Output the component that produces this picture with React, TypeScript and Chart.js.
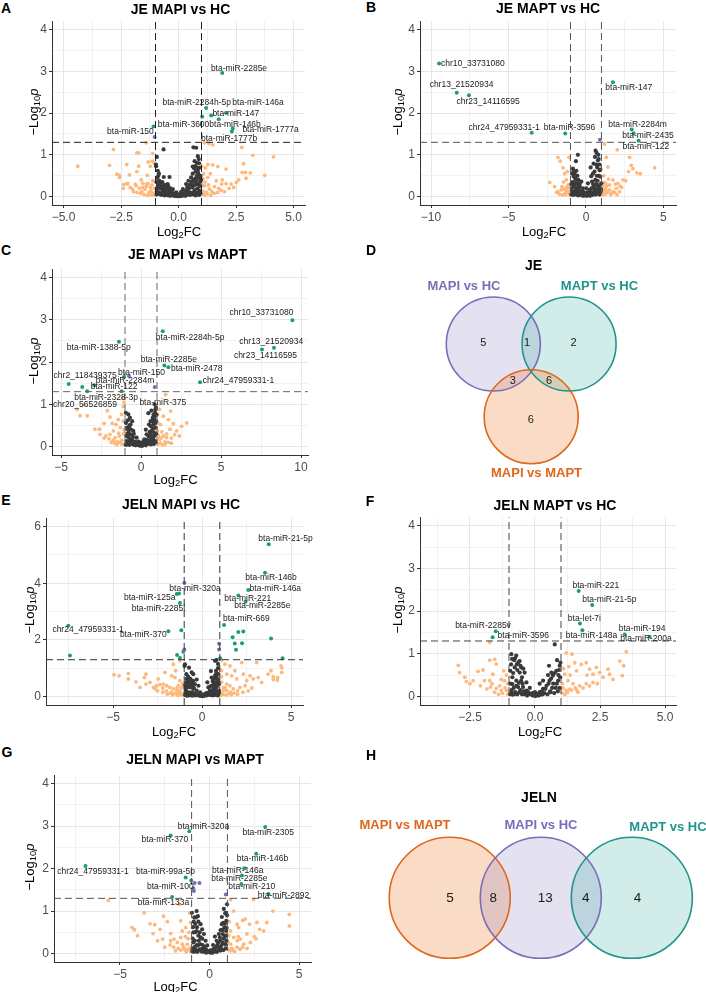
import React, { useEffect, useRef } from 'react';
import { Chart, registerables } from 'chart.js';
Chart.register(...registerables);

const FONT = '"Liberation Sans", Arial, Helvetica, sans-serif';
const ORANGE_PT = '#FDB97D';
const GREY_PT = '#3A3A3A';
const GREEN_PT = '#1B9E77';
const PURPLE_PT = '#7570B3';

type P = [number, number];
type L = [string, number, number];

// thresholds
const fcCutoffs = [-1, 1];
const pCutoff = 1.3;

// ---------- Panel A: JE MAPI vs HC ----------
const aOrange: P[] = [[-4.38,0.73],[-3.0,0.75],[-2.83,1.13],[-2.68,0.54],[-2.57,0.51],[-2.25,0.77],[-2.38,0.29],[-2.25,0.31],[-2.13,0.52],[-1.88,0.30],[-1.81,0.6],[-1.73,1.05],[-1.73,0.73],[-1.62,0.40],[-1.55,0.32],[-1.40,1.29],[-1.32,0.83],[-1.36,0.51],[-1.23,0.73],[-1.12,1.03],[-1.07,0.81],[-1.38,0.30],[-1.7,0.2],[-1.22,0.22],[-1.12,0.38],[-1.04,0.2],[-2.57,0.46],[-2.2,0.31],[-1.84,0.26],[-1.55,0.22],[-1.33,0.31],[-1.19,0.14],[-1.14,0.85],[-1.81,1.05],[-1.6,0.12],[-1.45,0.18],[-1.28,0.1],[-1.1,0.08],[-2.0,0.18],
[-1.05,0.05],[-1.15,0.04],[-1.25,0.06],[-1.35,0.03],[-1.5,0.05],[-1.65,0.08],[-1.8,0.1],[-1.95,0.12],[-2.1,0.22],[-2.4,0.2],[-1.4,0.25],[-1.15,0.28],
[1.01,0.73],[1.16,0.69],[1.12,1.29],[1.27,0.46],[1.38,0.55],[1.49,0.76],[1.64,0.38],[1.88,0.30],[2.07,0.31],[2.29,0.30],[2.51,0.34],[2.62,0.40],[2.77,0.58],[2.83,0.79],[2.75,1.18],[3.12,0.57],[3.23,0.99],[3.75,0.51],[4.13,0.95],[1.06,0.43],[1.13,0.26],[1.06,0.13],[1.35,0.18],[1.57,0.24],[1.32,1.27],[1.49,1.24],[1.28,0.77],[1.71,0.72],[2.07,0.66],[2.91,0.58],[2.94,0.44],[1.2,0.1],[1.45,0.12],[1.75,0.2],[1.02,0.3],[1.1,0.55],
[1.05,0.05],[1.15,0.04],[1.25,0.07],[1.4,0.03],[1.55,0.08],[1.7,0.1],[1.85,0.15],[2.0,0.12],[2.2,0.2],[1.3,0.28],[1.15,0.35],[1.9,0.4],[2.4,0.22]];
const aGrey: P[] = [[-0.98,0.77],[-0.97,0.73],[-0.65,1.13],[-0.83,0.38],[-0.64,0.47],[-0.75,0.22],[-0.47,0.30],[-0.39,0.47],[-0.25,0.18],[-0.10,0.10],[0.04,0.05],[0.19,0.18],[0.33,0.30],[0.43,0.38],[0.55,0.46],[0.62,0.55],[0.65,1.18],[0.77,1.17],[0.73,0.73],[0.84,0.97],[0.80,0.81],[0.91,0.69],[0.96,0.50],[0.84,0.62],[0.74,0.44],[0.41,0.18],[0.12,0.10],[-0.17,0.08],[-0.57,0.14],[-0.94,0.13],[-0.90,0.26],[0.60,0.22],[0.77,0.30],[0.91,0.14],
[-0.85,0.55],[-0.7,0.35],[-0.6,0.28],[-0.5,0.2],[-0.4,0.15],[-0.3,0.1],[-0.2,0.06],[0,0.02],[0.1,0.04],[0.2,0.08],[0.3,0.12],[0.45,0.2],[0.55,0.3],[0.65,0.4],[0.75,0.6],[0.85,0.3],[0.9,0.45],[0.95,0.25],[0.7,0.85],[0.88,0.9],[-0.92,0.45],[-0.8,0.2],[-0.7,0.12],[-0.55,0.08],[-0.35,0.05],[0.35,0.05],[0.5,0.1],[0.7,0.15],[0.8,0.5],[0.68,0.68],[-0.96,0.35],[-0.9,0.62],
[-0.95,0.05],[-0.9,0.08],[-0.85,0.1],[-0.8,0.06],[-0.75,0.04],[-0.7,0.08],[-0.65,0.05],[-0.6,0.03],[-0.55,0.12],[-0.5,0.05],[-0.45,0.03],[-0.4,0.08],[-0.35,0.02],[-0.3,0.14],[-0.25,0.04],[-0.2,0.02],[-0.15,0.03],[-0.1,0.01],[-0.05,0.02],[0.05,0.01],[0.1,0.1],[0.15,0.02],[0.2,0.03],[0.25,0.06],[0.3,0.02],[0.35,0.15],[0.4,0.05],[0.45,0.08],[0.5,0.04],[0.55,0.06],[0.6,0.09],[0.65,0.05],[0.7,0.07],[0.75,0.03],[0.8,0.09],[0.85,0.06],[0.9,0.04],[0.95,0.08],[-0.92,0.2],[-0.88,0.3],[-0.82,0.26],[-0.78,0.32],[-0.72,0.25],[-0.68,0.18],[-0.62,0.22],[-0.52,0.16],[-0.45,0.25],[-0.36,0.2],[0.38,0.22],[0.48,0.28],[0.58,0.36],[0.68,0.27],[0.72,0.35],[0.78,0.4],[0.82,0.2],[0.86,0.55],[0.92,0.35],[0.98,0.4],[0.62,0.72],[0.8,0.7],[0.9,0.8],[-0.94,0.95],[-0.88,0.5]];
const aGreen: P[] = [[1.9,2.96],[1.2,2.12],[2.07,2.01],[1.42,1.94],[1.03,1.91],[1.75,1.85],[2.36,1.63],[2.32,1.56],[-1.09,1.68]];
const aPurple: P[] = [[-1.04,1.43]];
const aLabels: L[] = [['bta-miR-2285e',2.63,3.06],['bta-miR-2284h-5p',0.79,2.26],['bta-miR-146a',3.46,2.26],['bta-miR-147',2.49,1.98],['bta-miR-3600',0.22,1.73],['bta-miR-146b',2.46,1.73],['bta-miR-1777a',4.0,1.61],['bta-miR-150',-2.09,1.55],['bta-miR-1777b',2.2,1.40]];

// ---------- Panel B: JE MAPT vs HC ----------
const bOrange: P[] = [[-2.34,0.34],[-1.81,0.94],[-1.66,0.85],[-1.48,0.69],[-1.38,0.55],[-1.27,0.40],[-1.55,0.24],[-1.10,0.94],[-1.16,0.28],[-2.02,0.24],[-1.81,0.12],[-1.59,0.16],[-1.27,0.12],[-1.05,0.24],[1.2,1.26],[1.31,0.94],[1.42,0.71],[1.53,0.28],[1.74,0.40],[1.96,0.2],[2.06,0.32],[2.17,0.12],[2.39,0.40],[2.82,0.94],[2.92,0.75],[3.03,0.67],[3.29,0.57],[3.5,0.55],[4.43,0.69],[2.75,0.6],[1.31,0.24],[1.74,0.12],[1.2,0.34],[2.02,1.12],[1.42,0.12],[2.56,0.38],[-1.3,0.05],[-1.1,0.1],[1.1,0.08],[1.6,0.05],[1.15,0.5],[-1.2,0.6],[-1.45,0.35],[2.3,0.22],[1.25,0.18],
[-1.05,0.05],[-1.15,0.15],[-1.35,0.08],[-1.5,0.04],[-1.7,0.06],[-1.9,0.1],[-1.25,0.22],[-1.4,0.18],[1.05,0.04],[1.15,0.15],[1.25,0.06],[1.35,0.1],[1.5,0.16],[1.65,0.08],[1.85,0.1],[2.0,0.05],[1.1,0.25],[1.3,0.3],[1.45,0.42],[1.9,0.3],[2.2,0.25]];
const bGrey: P[] = [[-0.52,1.0],[-0.84,0.67],[-0.73,0.55],[-0.67,0.40],[-0.58,0.32],[-0.41,0.24],[-0.19,0.12],[0.02,0.05],[0.24,0.16],[0.39,0.36],[0.45,0.55],[0.49,0.79],[0.62,1.10],[0.77,0.87],[0.88,0.63],[0.92,0.48],[0.99,0.32],[0.77,0.24],[0.56,0.12],[0.28,0.09],[-0.09,0.09],[-0.49,0.40],[-0.77,0.24],[-0.88,0.12],[0.67,0.77],[0.88,0.77],[0.02,0.2],[0.34,0.49],[0.13,0.32],[-0.3,0.36],[-0.79,0.48],[-0.6,0.2],[0.6,0.4],[0.95,0.12],[-0.95,0.3],[-0.9,0.55],[-0.7,0.1],[-0.45,0.08],[-0.3,0.05],[0.15,0.04],[0.4,0.1],[0.7,0.15],[0.85,0.2],[0.5,0.25],[-0.2,0.2],[-0.65,0.85],[0.3,0.7],[0.8,1.0],[0.55,0.6],[0.7,0.5],
[-0.95,0.05],[-0.88,0.08],[-0.82,0.04],[-0.78,0.12],[-0.72,0.06],[-0.66,0.15],[-0.62,0.05],[-0.55,0.1],[-0.5,0.03],[-0.46,0.17],[-0.38,0.06],[-0.34,0.12],[-0.26,0.03],[-0.22,0.08],[-0.14,0.02],[-0.05,0.04],[0.06,0.02],[0.1,0.1],[0.2,0.05],[0.26,0.02],[0.32,0.08],[0.36,0.2],[0.42,0.04],[0.46,0.3],[0.52,0.08],[0.58,0.18],[0.63,0.05],[0.66,0.3],[0.72,0.08],[0.75,0.38],[0.8,0.12],[0.83,0.5],[0.87,0.05],[0.9,0.28],[0.93,0.65],[0.97,0.18],[-0.92,0.2],[-0.86,0.35],[-0.8,0.6],[-0.75,0.3],[-0.7,0.45],[-0.62,0.62],[-0.55,0.5],[-0.5,0.25],[-0.4,0.3],[0.58,0.95],[0.72,0.7],[0.68,1.05],[0.82,0.9]];
const bGreen: P[] = [[-9.48,3.19],[-8.34,2.49],[-7.55,2.43],[-3.5,1.53],[-1.34,1.51],[1.74,2.74],[2.95,1.61],[3.08,1.52],[3.40,1.34]];
const bPurple: P[] = [[0.9,1.36]];
const bLabels: L[] = [['chr10_33731080',-7.3,3.18],['chr13_21520934',-8.03,2.67],['chr23_14116595',-6.32,2.28],['chr24_47959331-1',-5.28,1.66],['bta-miR-3596',-1.06,1.66],['bta-miR-147',2.76,2.6],['bta-miR-2284m',3.33,1.72],['bta-miR-2435',4.0,1.47],['bta-miR-122',3.86,1.2]];

// ---------- Panel C: JE MAPI vs MAPT ----------
const cOrange: P[] = [[-3.81,0.73],[-3.36,0.73],[-3.56,0.99],[-2.1,0.85],[-1.94,0.70],[-2.88,0.41],[-2.6,0.41],[-2.19,0.25],[-1.94,0.29],[-1.73,0.37],[-1.56,0.52],[-1.42,0.64],[-1.21,0.76],[-1.1,0.95],[-1.06,1.05],[-1.62,0.21],[-1.35,0.25],[-2.56,0.29],[1.02,0.76],[1.15,0.88],[1.03,0.37],[1.23,0.52],[1.40,0.72],[1.54,1.23],[1.71,0.64],[1.81,0.41],[1.85,0.84],[2.02,0.54],[2.23,0.37],[2.54,0.48],[2.86,0.56],[1.15,0.17],[1.40,0.25],[1.6,0.21],[1.5,0.11],[-1.5,0.11],[-1.73,0.15],[-1.2,0.15],[-1.1,0.3],[-1.3,0.45],[1.1,0.25],[1.3,0.35],[-2.3,0.55],[-1.8,0.55],[1.9,0.2],[2.1,0.28],[-1.15,1.15],[-4.0,0.88],
[-1.05,0.05],[-1.2,0.06],[-1.35,0.1],[-1.5,0.05],[-1.65,0.08],[-1.85,0.1],[-2.0,0.18],[-2.3,0.2],[-1.4,0.32],[-1.05,0.4],[-1.1,0.6],[1.05,0.05],[1.2,0.08],[1.35,0.04],[1.5,0.06],[1.7,0.1],[1.9,0.08],[1.25,0.2],[1.6,0.3],[2.4,0.25],[1.05,0.55]];
const cGrey: P[] = [[-0.79,0.76],[-0.69,0.68],[-0.94,0.56],[-0.83,0.41],[-0.69,0.29],[-0.58,0.17],[-0.37,0.09],[-0.17,0.04],[0.04,0.02],[0.25,0.06],[0.46,0.13],[0.56,0.25],[0.67,0.37],[0.77,0.52],[0.81,0.64],[0.88,0.80],[0.9,0.88],[0.73,0.68],[0.35,0.29],[0.5,0.52],[0.6,0.60],[-0.48,0.37],[-0.65,0.52],[-0.27,0.21],[-0.06,0.09],[0.21,0.17],[-0.77,0.21],[-0.9,0.13],[0.88,0.13],[0.77,0.17],[0.81,0.33],[0.46,0.79],[-0.85,0.3],[-0.75,0.45],[-0.5,0.12],[-0.3,0.06],[0.1,0.05],[0.35,0.1],[0.6,0.15],[0.7,0.25],[0.92,0.45],[0.85,1.0],[0.65,0.85],[-0.55,0.6],[-0.95,0.8],[0.3,0.4],[0.15,0.12],[-0.15,0.12],[0.95,0.6],[0.55,0.35],
[-0.95,0.04],[-0.9,0.08],[-0.85,0.05],[-0.8,0.1],[-0.72,0.04],[-0.68,0.14],[-0.62,0.06],[-0.55,0.08],[-0.5,0.22],[-0.45,0.04],[-0.4,0.12],[-0.33,0.03],[-0.28,0.1],[-0.22,0.05],[-0.12,0.06],[-0.08,0.02],[0.02,0.08],[0.08,0.02],[0.18,0.06],[0.22,0.12],[0.3,0.03],[0.38,0.16],[0.42,0.06],[0.48,0.24],[0.52,0.08],[0.58,0.32],[0.62,0.05],[0.66,0.2],[0.72,0.1],[0.76,0.42],[0.8,0.06],[0.84,0.25],[0.88,0.55],[0.92,0.1],[0.95,0.3],[0.97,0.75],[-0.92,0.25],[-0.88,0.45],[-0.82,0.62],[-0.78,0.33],[-0.72,0.5],[-0.62,0.4],[-0.58,0.28],[-0.45,0.3],[0.62,0.48],[0.7,0.6],[0.78,0.75],[0.84,0.68],[0.94,0.92]];
const cGreen: P[] = [[9.46,2.99],[1.36,2.73],[-1.38,2.48],[8.31,2.34],[7.56,2.30],[1.46,1.92],[1.71,1.88],[-1.06,1.65],[3.69,1.52],[-4.52,1.48],[-3.67,1.41],[-2.92,1.45],[-3.36,1.31],[-1.21,1.31]];
const cPurple: P[] = [[-0.75,1.67],[0.86,1.41]];
const cLabels: L[] = [['chr10_33731080',7.53,3.16],['bta-miR-2284h-5p',3.07,2.59],['bta-miR-1388-5p',-2.64,2.34],['chr13_21520934',8.14,2.49],['chr23_14116595',7.78,2.16],['bta-miR-2285e',1.74,2.06],['bta-miR-2478',3.48,1.85],['bta-miR-150',0.03,1.76],['chr2_118439375',-3.49,1.68],['bta-miR-2284m',-1.0,1.56],['chr24_47959331-1',6.09,1.56],['bta-miR-122',-1.68,1.41],['bta-miR-2328-3p',-2.18,1.15],['chr20_56526859',-3.5,0.99],['bta-miR-375',1.36,1.03]];

// ---------- Panel E: JELN MAPI vs HC ----------
const eOrange: P[] = [[-4.94,0.77],[-4.66,0.73],[-4.14,0.81],[-4.14,0.62],[-3.71,0.52],[-3.15,0.79],[-3.24,0.67],[-3.15,0.44],[-2.73,0.32],[-2.55,0.38],[-2.36,0.42],[-2.17,0.44],[-1.98,0.38],[-1.80,0.32],[-1.61,0.27],[-1.42,0.21],[-1.33,0.38],[-1.24,0.56],[-1.52,0.67],[-1.70,0.73],[-2.08,0.85],[-2.46,0.62],[-2.92,0.5],[-3.48,0.32],[-2.64,0.27],[-1.24,0.21],[-1.14,0.32],[-1.7,0.15],[-1.61,1.14],[-1.48,0.91],[-1.24,1.26],[1.1,1.28],[1.29,1.14],[1.57,1.08],[1.39,0.79],[1.67,0.73],[1.85,0.91],[1.95,0.62],[2.23,1.2],[2.32,0.79],[2.51,0.56],[2.70,0.73],[2.88,0.62],[3.07,1.2],[3.16,0.67],[3.35,0.5],[3.72,0.79],[3.88,0.91],[4.0,0.70],[4.23,0.58],[4.48,1.02],[4.48,0.85],[1.1,0.91],[1.1,0.5],[1.2,0.32],[1.39,0.21],[1.76,0.27],[2.13,0.32],[2.42,0.38],[1.57,0.38],[1.39,0.44],[1.2,0.21],[4.0,0.6],[4.25,0.67],[4.44,1.08],[-1.1,0.1],[-1.3,0.12],[-2.0,0.2],[1.05,0.12],[1.6,0.15],[2.0,0.2],[2.8,0.3],[-2.2,0.3],
[-1.05,0.05],[-1.2,0.08],[-1.35,0.04],[-1.5,0.1],[-1.65,0.06],[-1.8,0.12],[-1.95,0.08],[-2.2,0.15],[-2.5,0.2],[-1.4,0.3],[-1.1,0.45],[1.05,0.04],[1.2,0.08],[1.35,0.05],[1.5,0.1],[1.65,0.06],[1.8,0.12],[2.0,0.08],[2.3,0.15],[2.6,0.2],[1.3,0.3],[1.1,0.7]];
const eGrey: P[] = [[-0.96,1.14],[-0.73,1.02],[-0.58,0.85],[-0.49,0.79],[-0.86,0.62],[-0.8,0.5],[-0.67,0.32],[-0.49,0.27],[-0.3,0.21],[-0.11,0.15],[0.07,0.07],[0.26,0.12],[0.45,0.21],[0.54,0.38],[0.64,0.5],[0.73,0.73],[0.79,0.91],[0.73,1.26],[0.82,1.29],[-0.86,0.32],[-0.9,0.21],[-0.58,0.15],[-0.4,0.44],[-0.2,0.38],[0.36,0.32],[0.64,0.27],[0.82,0.32],[0.92,0.5],[0.82,0.67],[0.92,0.79],[-0.88,0.79],[-0.98,1.08],[-0.86,0.12],[0.82,0.15],[0.54,0.67],[-0.7,0.6],[-0.6,0.5],[-0.4,0.1],[-0.2,0.05],[0.0,0.03],[0.15,0.06],[0.35,0.1],[0.6,0.12],[0.9,1.0],[0.95,0.2],[-0.95,0.4],[-0.75,0.15],[0.3,0.5],[-0.3,0.6],[0.7,0.4],[0.5,0.9],
[-0.95,0.05],[-0.9,0.1],[-0.85,0.03],[-0.8,0.08],[-0.75,0.04],[-0.7,0.12],[-0.65,0.05],[-0.6,0.08],[-0.55,0.03],[-0.5,0.12],[-0.45,0.05],[-0.35,0.04],[-0.25,0.08],[-0.15,0.03],[-0.05,0.02],[0.05,0.01],[0.12,0.03],[0.2,0.1],[0.25,0.04],[0.32,0.06],[0.4,0.15],[0.45,0.05],[0.5,0.08],[0.55,0.2],[0.6,0.04],[0.65,0.12],[0.7,0.06],[0.75,0.2],[0.8,0.05],[0.85,0.1],[0.9,0.04],[0.95,0.12],[-0.92,0.3],[-0.88,0.5],[-0.82,0.4],[-0.78,0.7],[-0.7,0.45],[-0.65,0.62],[-0.55,0.4],[-0.5,0.55],[-0.45,0.3],[0.45,0.35],[0.6,0.55],[0.68,0.62],[0.75,0.5],[0.8,0.82],[0.85,0.4],[0.88,0.6],[0.95,0.42],[0.9,1.15]];
const eGreen: P[] = [[3.75,5.38],[3.54,4.37],[2.6,3.76],[2.04,3.57],[2.45,3.35],[1.24,2.53],[2.04,2.28],[2.32,2.30],[1.72,2.09],[1.84,1.87],[2.25,1.88],[1.91,1.65],[3.88,2.05],[4.53,1.35],[1.02,1.35],[-1.29,3.64],[-1.42,3.62],[-1.24,3.30],[-1.16,2.34],[-1.89,2.31],[-7.51,2.50],[-7.42,1.45],[-1.40,1.47],[-1.24,1.36],[-1.05,1.58]];
const ePurple: P[] = [[-0.99,4.01],[-0.99,1.66],[0.96,1.86],[0.96,1.66]];
const eLabels: L[] = [['bta-miR-21-5p',4.69,5.58],['bta-miR-146b',3.88,4.21],['bta-miR-146a',4.12,3.8],['bta-miR-320a',-0.39,3.8],['bta-miR-125a',-2.94,3.51],['bta-miR-221',2.57,3.45],['bta-miR-2285e',3.39,3.2],['bta-miR-2285l',-2.45,3.1],['bta-miR-669',2.49,2.74],['chr24_47959331-1',-6.4,2.35],['bta-miR-370',-3.3,2.17]];

// ---------- Panel F: JELN MAPT vs HC ----------
const fOrange: P[] = [[-2.95,0.73],[-2.9,0.56],[-2.64,0.35],[-2.38,0.37],[-2.19,0.59],[-2.0,0.62],[-1.74,0.85],[-1.55,0.87],[-1.49,0.76],[-1.62,0.52],[-1.74,0.37],[-1.71,0.22],[-1.36,0.25],[-1.17,0.37],[-1.1,0.14],[-1.49,0.19],[-1.30,0.14],[-1.74,1.27],[-1.94,0.37],[-2.5,0.3],[-1.2,0.6],[-1.05,0.3],[-2.7,0.45],
[-1.05,0.05],[-1.15,0.2],[-1.25,0.08],[-1.4,0.05],[-1.55,0.1],[-1.65,0.3],[-1.85,0.18],[-2.1,0.25],[-1.3,0.4],[-1.1,0.5],
[1.2,1.02],[1.42,0.99],[1.53,0.79],[1.78,0.75],[1.97,0.79],[2.1,0.64],[2.23,0.52],[2.36,0.68],[2.49,0.56],[2.62,0.45],[2.81,0.64],[2.87,0.52],[3.26,0.83],[3.41,0.72],[3.36,0.49],[3.51,1.05],[1.27,0.37],[1.46,0.3],[1.72,0.25],[1.97,0.3],[2.23,0.33],[1.2,0.14],[1.08,0.2],[1.34,0.17],[1.14,0.52],[1.05,0.08],[1.6,0.15],[2.0,0.5],[1.6,0.6],[3.0,0.4],[1.3,0.7],
[1.05,0.3],[1.15,0.05],[1.25,0.1],[1.4,0.15],[1.55,0.2],[1.65,0.1],[1.85,0.2],[2.1,0.25],[2.4,0.3],[1.35,0.5],[1.1,0.65]];
const fGrey: P[] = [[-0.91,0.99],[-0.72,0.96],[-0.59,0.83],[-0.78,0.68],[-0.87,0.45],[-0.87,0.29],[-0.72,0.37],[-0.59,0.56],[-0.53,0.37],[-0.46,0.22],[-0.33,0.14],[-0.2,0.06],[-0.08,0.02],[0.05,0.04],[0.18,0.10],[0.31,0.18],[0.44,0.25],[0.56,0.37],[0.69,0.49],[0.82,0.60],[0.95,0.72],[0.98,0.79],[0.54,0.72],[0.63,0.56],[0.76,1.22],[-0.4,0.56],[-0.53,0.68],[-0.65,0.22],[-0.91,0.1],[-0.78,0.06],[0.95,0.2],[0.89,0.37],[0.31,0.37],[0.18,0.3],[-0.33,0.33],[-0.95,0.6],[-0.8,0.85],[-0.6,0.1],[-0.4,0.05],[0.3,0.05],[0.6,0.1],[0.8,0.2],[0.9,0.5],[0.7,0.3],[-0.2,0.2],[0.0,0.1],[-0.7,0.75],[0.5,0.5],[0.85,0.85],[-0.95,0.3],
[-0.95,0.05],[-0.9,0.15],[-0.85,0.04],[-0.82,0.2],[-0.76,0.1],[-0.72,0.25],[-0.68,0.05],[-0.62,0.32],[-0.56,0.15],[-0.5,0.05],[-0.48,0.3],[-0.44,0.12],[-0.36,0.08],[-0.3,0.02],[-0.26,0.1],[-0.14,0.04],[-0.1,0.08],[0.02,0.01],[0.1,0.06],[0.14,0.02],[0.22,0.04],[0.26,0.12],[0.36,0.08],[0.4,0.18],[0.48,0.05],[0.52,0.3],[0.58,0.12],[0.62,0.42],[0.66,0.2],[0.74,0.08],[0.76,0.55],[0.84,0.3],[0.88,0.12],[0.92,0.62],[0.97,0.45],[-0.92,0.75],[-0.88,0.88],[-0.84,0.55],[-0.76,0.9],[-0.68,0.62],[-0.64,0.8],[-0.56,0.72],[-0.5,0.45],[-0.45,0.65]];
const fGreen: P[] = [[1.68,2.47],[2.2,2.14],[1.73,1.71],[1.82,1.55],[3.45,1.45],[4.41,1.40],[-1.51,1.53],[-1.63,1.39]];
const fPurple: P[] = [];
const fLabels: L[] = [['bta-miR-221',2.34,2.6],['bta-miR-21-5p',2.86,2.27],['bta-let-7i',1.9,1.83],['bta-miR-148a',2.17,1.43],['bta-miR-194',4.12,1.58],['bta-miR-200a',4.27,1.36],['bta-miR-2285v',-2.0,1.66],['bta-miR-3596',-0.45,1.43]];

// ---------- Panel G: JELN MAPI vs MAPT ----------
const gOrange: P[] = [[-5.65,1.25],[-4.33,0.61],[-4.2,0.56],[-3.65,0.96],[-3.32,0.7],[-3.06,0.68],[-2.76,0.57],[-2.57,0.88],[-2.35,0.75],[-2.17,0.47],[-3.15,0.47],[-2.63,0.34],[-2.17,0.30],[-1.98,0.34],[-1.80,0.26],[-1.61,0.38],[-1.52,0.53],[-1.24,0.22],[-1.52,0.22],[-1.33,0.61],[-1.61,0.77],[-1.06,0.73],[-1.15,0.5],[-1.7,1.16],[-1.04,0.15],[-4.02,0.42],[-1.4,0.1],[-1.2,0.35],[-2.0,0.15],
[-1.05,0.05],[-1.2,0.1],[-1.3,0.04],[-1.45,0.15],[-1.6,0.08],[-1.75,0.12],[-1.9,0.06],[-2.2,0.2],[-2.5,0.15],[-2.9,0.3],[-1.35,0.4],[-1.1,0.95],
[1.17,1.27],[1.35,1.0],[1.54,0.69],[1.63,0.61],[1.85,0.78],[2.0,0.81],[2.24,0.69],[2.46,1.27],[2.65,0.73],[2.80,0.57],[3.20,0.73],[3.54,1.0],[4.46,0.92],[4.46,0.65],[3.02,0.53],[2.09,0.46],[1.35,0.38],[1.17,0.22],[1.54,0.15],[1.91,0.22],[2.28,0.26],[1.72,0.34],[1.07,0.42],[1.17,0.53],[1.05,0.1],[1.3,0.08],[1.6,0.4],[2.5,0.4],
[1.05,0.25],[1.15,0.06],[1.25,0.12],[1.4,0.05],[1.55,0.3],[1.7,0.1],[1.85,0.15],[2.1,0.12],[2.6,0.35],[1.1,0.75]];
const gGrey: P[] = [[-0.98,0.96],[-0.72,1.0],[-0.65,0.88],[-0.5,0.69],[-0.41,0.57],[-0.31,0.46],[-0.22,0.30],[-0.13,0.19],[0.02,0.07],[0.24,0.11],[0.43,0.19],[0.61,0.30],[0.74,0.46],[0.83,0.61],[0.94,0.77],[0.93,0.96],[0.98,1.16],[0.69,0.69],[0.52,0.46],[-0.5,0.38],[-0.72,0.53],[-0.91,0.26],[-0.83,0.15],[-0.65,0.19],[-0.41,0.11],[0.33,0.05],[0.61,0.07],[0.89,0.22],[0.93,0.53],[-0.41,0.35],[0.69,0.86],[-0.9,0.5],[-0.8,0.7],[-0.6,0.3],[-0.3,0.15],[-0.1,0.05],[0.1,0.03],[0.2,0.2],[0.4,0.3],[0.55,0.15],[0.75,0.25],[0.85,0.4],[0.95,0.3],[-0.95,0.1],[-0.2,0.1],[0.3,0.4],[0.8,1.05],[-0.85,0.85],
[-0.95,0.05],[-0.9,0.12],[-0.86,0.04],[-0.82,0.3],[-0.76,0.08],[-0.72,0.2],[-0.68,0.04],[-0.62,0.42],[-0.56,0.1],[-0.52,0.22],[-0.46,0.05],[-0.38,0.2],[-0.34,0.04],[-0.26,0.08],[-0.18,0.02],[-0.06,0.04],[0.06,0.02],[0.14,0.08],[0.18,0.02],[0.28,0.06],[0.36,0.14],[0.42,0.04],[0.48,0.25],[0.52,0.08],[0.58,0.38],[0.64,0.12],[0.68,0.2],[0.72,0.55],[0.78,0.08],[0.8,0.35],[0.86,0.7],[0.9,0.12],[0.96,0.6],[0.98,0.9],[-0.94,0.35],[-0.92,0.62],[-0.88,0.75],[-0.8,0.5],[-0.75,0.85],[-0.7,0.62],[-0.62,0.75],[-0.55,0.5],[0.62,0.55],[0.76,0.72],[0.88,0.95],[0.92,0.42]];
const gGreen: P[] = [[3.11,2.98],[-1.13,2.88],[-2.17,2.78],[2.61,2.35],[-6.93,2.06],[1.94,2.01],[-1.33,1.79],[-1.02,1.72],[1.81,1.84],[1.78,1.64],[3.3,1.40],[-2.09,1.33]];
const gPurple: P[] = [[-0.83,1.66],[-0.56,1.66],[-0.91,1.54],[-0.87,1.47],[0.91,1.39]];
const gLabels: L[] = [['bta-miR-320a',-0.34,2.98],['bta-miR-2305',3.28,2.84],['bta-miR-370',-2.49,2.67],['bta-miR-146b',2.96,2.23],['chr24_47959331-1',-6.51,1.92],['bta-miR-99a-5p',-2.46,1.92],['bta-miR-146a',1.58,1.95],['bta-miR-2285e',1.67,1.76],['bta-miR-100',-2.19,1.58],['bta-miR-210',2.36,1.57],['bta-miR-2892',4.13,1.36],['bta-miR-133a',-2.57,1.19]];

// ---------- Venn data ----------
const jeVennSets = ['MAPI vs HC', 'MAPT vs HC', 'MAPI vs MAPT'];
const jeVennCounts = [5, 1, 2, 3, 6, 6];
const jelnVennSets = ['MAPI vs MAPT', 'MAPI vs HC', 'MAPT vs HC'];
const jelnVennCounts = [5, 8, 13, 4, 4];

// Venn geometry (unit radius)
const jeCircleX = [-0.806, 0.806, 0];
const jeCircleY = [0, 0, -1.547];
const jeCountX = [-1.02, -0.09, 0.9, -0.39, 0.38, -0.01];
const jeCountY = [0.03, 0.03, 0.03, -0.78, -0.78, -1.62];
const jelnCircleX = [-1.505, 0, 1.505];
const jelnCircleY = [0, 0, 0];
const jelnCountX = [-1.5, -0.785, 0.075, 0.742, 1.6];
const jelnCountY = [0, 0, 0, 0, 0];

const SET_STYLE: Record<string, { stroke: string; fill: string }> = {
  'MAPI vs HC': { stroke: '#7A6CB8', fill: 'rgba(118,104,186,0.2)' },
  'MAPT vs HC': { stroke: '#1F958B', fill: 'rgba(27,158,145,0.2)' },
  'MAPI vs MAPT': { stroke: '#E0661A', fill: 'rgba(238,125,45,0.27)' },
};

type Cfg = {
  plot: [number, number, number, number];
  panelRight: number;
  x: [number, number, number, number, number];
  y: [number, number, number, number];
  orange: P[]; grey: P[]; green: P[]; purple: P[]; labels: L[];
  line: string;
};

const panelA: Cfg = { plot: [52, 18, 305, 205], panelRight: 353, x: [-5.5, 5.5, 2.5, 1.25, 1], y: [-0.2, 4.2, 1, 0.5], orange: aOrange, grey: aGrey, green: aGreen, purple: aPurple, labels: aLabels, line: '#1f1f1f' };
const panelB: Cfg = { plot: [420, 18, 676, 205], panelRight: 706, x: [-10.71, 5.81, 5, 2.5, 0], y: [-0.2, 4.2, 1, 0.5], orange: bOrange, grey: bGrey, green: bGreen, purple: bPurple, labels: bLabels, line: '#555' };
const panelC: Cfg = { plot: [52, 266, 308, 455], panelRight: 353, x: [-5.5625, 10.4375, 5, 2.5, 0], y: [-0.2, 4.2, 1, 0.5], orange: cOrange, grey: cGrey, green: cGreen, purple: cPurple, labels: cLabels, line: '#666' };
const panelE: Cfg = { plot: [46, 515, 303, 705], panelRight: 353, x: [-8.764, 5.674, 5, 2.5, 0], y: [-0.3, 6.3, 2, 1], orange: eOrange, grey: eGrey, green: eGreen, purple: ePurple, labels: eLabels, line: '#333' };
const panelF: Cfg = { plot: [420, 514, 676, 705], panelRight: 706, x: [-4.423, 5.423, 2.5, 1.25, 1], y: [-0.2, 4.2, 1, 0.5], orange: fOrange, grey: fGrey, green: fGreen, purple: fPurple, labels: fLabels, line: '#444' };
const panelG: Cfg = { plot: [54, 772, 311, 962], panelRight: 353, x: [-8.687, 5.67, 5, 2.5, 0], y: [-0.2, 4.2, 1, 0.5], orange: gOrange, grey: gGrey, green: gGreen, purple: gPurple, labels: gLabels, line: '#555' };

const isMaj = (v: number, m: number) => Math.abs(v / m - Math.round(v / m)) < 1e-6;
const fmt = (v: number, d: number) => (v < -1e-9 ? '\u2212' : '') + Math.abs(v).toFixed(d);
const toXY = (arr: P[]) => arr.map(([x, y]) => ({ x, y }));

function Volcano({ cfg }: { cfg: Cfg }) {
  const ref = useRef<HTMLCanvasElement>(null);
  const [pl, pt, pr, pb] = cfg.plot;
  const AXW = 40, TOP = 6, AXH = 22;
  const cl = pl - AXW, ct = pt - TOP, cw = cfg.panelRight - cl, ch = pb + AXH - ct;
  useEffect(() => {
    const [xmin, xmax, xmaj, xstep, xdec] = cfg.x;
    const [ymin, ymax, ymaj, ystep] = cfg.y;
    const gridColor = (m: number) => (c: any) => (c.tick && isMaj(c.tick.value, m) ? '#E6E6E6' : '#F2F2F2');
    const tickColor = (m: number) => (c: any) => (c.tick && isMaj(c.tick.value, m) ? '#333333' : 'rgba(0,0,0,0)');
    const lineDs = (pts: { x: number; y: number }[]) => ({
      data: pts, showLine: true, pointRadius: 0, borderColor: cfg.line, borderWidth: 1, borderDash: [7, 4], order: 0, fill: false,
    });
    const ptDs = (arr: P[], color: string, order: number, r: number) => ({
      data: toXY(arr), backgroundColor: color, borderWidth: 0, pointRadius: r, pointBorderWidth: 0, showLine: false, order,
    });
    const labelPlugin = {
      id: 'geneLabels',
      afterDatasetsDraw(chart: any) {
        const { ctx, scales } = chart;
        ctx.save();
        ctx.font = `8.5px ${FONT}`;
        ctx.fillStyle = '#1a1a1a';
        ctx.textAlign = 'center';
        ctx.textBaseline = 'middle';
        cfg.labels.forEach(([t, lx, ly]) => {
          ctx.fillText(t, scales.x.getPixelForValue(lx), scales.y.getPixelForValue(ly));
        });
        ctx.restore();
      },
    };
    const chart = new Chart(ref.current as HTMLCanvasElement, {
      type: 'scatter',
      data: {
        datasets: [
          ptDs(cfg.orange, ORANGE_PT, 4, 1.9),
          ptDs(cfg.grey, GREY_PT, 3, 2.1),
          ptDs(cfg.green, GREEN_PT, 2, 2),
          ptDs(cfg.purple, PURPLE_PT, 1, 2),
          ...fcCutoffs.map((v) => lineDs([{ x: v, y: ymin }, { x: v, y: ymax }])),
          lineDs([{ x: xmin, y: pCutoff }, { x: xmax, y: pCutoff }]),
        ] as any,
      },
      options: {
        responsive: false,
        animation: false,
        events: [],
        layout: { padding: { left: 0, top: TOP, right: cfg.panelRight - pr, bottom: 0 }, autoPadding: false },
        plugins: { legend: { display: false }, tooltip: { enabled: false }, title: { display: false } },
        scales: {
          x: {
            type: 'linear', min: xmin, max: xmax,
            afterFit: (s: any) => { s.height = AXH; },
            border: { display: true, color: '#333', width: 1 },
            grid: { color: gridColor(xmaj) as any, lineWidth: 1, tickColor: tickColor(xmaj) as any, tickLength: 3, drawTicks: true },
            ticks: {
              stepSize: xstep, autoSkip: false, maxRotation: 0, minRotation: 0, includeBounds: false, maxTicksLimit: 100, padding: 2,
              font: { size: 12, family: FONT }, color: '#4D4D4D',
              callback: (v: any) => (isMaj(Number(v), xmaj) ? fmt(Number(v), xdec) : ''),
            },
          },
          y: {
            type: 'linear', min: ymin, max: ymax,
            afterFit: (s: any) => { s.width = AXW; },
            border: { display: true, color: '#333', width: 1 },
            grid: { color: gridColor(ymaj) as any, lineWidth: 1, tickColor: tickColor(ymaj) as any, tickLength: 3, drawTicks: true },
            ticks: {
              stepSize: ystep, autoSkip: false, includeBounds: false, maxTicksLimit: 100, padding: 2,
              font: { size: 12, family: FONT }, color: '#4D4D4D',
              callback: (v: any) => (isMaj(Number(v), ymaj) ? fmt(Number(v), 0) : ''),
            },
          },
        },
      } as any,
      plugins: [labelPlugin],
    });
    return () => chart.destroy();
  }, []);
  return <canvas ref={ref} width={cw} height={ch} style={{ position: 'absolute', left: cl, top: ct, width: cw, height: ch }} />;
}

type VennCfg = {
  left: number; top: number; width: number; height: number;
  xr: [number, number]; yr: [number, number];
  sets: string[]; cx: number[]; cy: number[];
  counts: number[]; kx: number[]; ky: number[];
  fontSize: number;
};

function Venn({ v }: { v: VennCfg }) {
  const ref = useRef<HTMLCanvasElement>(null);
  useEffect(() => {
    const vennPlugin = {
      id: 'venn',
      beforeDatasetsDraw(chart: any) {
        const { ctx, scales } = chart;
        const px = (i: number) => scales.x.getPixelForValue(v.cx[i]);
        const py = (i: number) => scales.y.getPixelForValue(v.cy[i]);
        const rad = (i: number) => scales.x.getPixelForValue(v.cx[i] + 1) - px(i);
        ctx.save();
        v.sets.forEach((s, i) => {
          ctx.beginPath();
          ctx.arc(px(i), py(i), rad(i), 0, Math.PI * 2);
          ctx.fillStyle = SET_STYLE[s].fill;
          ctx.fill();
        });
        v.sets.forEach((s, i) => {
          ctx.beginPath();
          ctx.arc(px(i), py(i), rad(i), 0, Math.PI * 2);
          ctx.strokeStyle = SET_STYLE[s].stroke;
          ctx.lineWidth = 1.6;
          ctx.stroke();
        });
        ctx.restore();
      },
      afterDatasetsDraw(chart: any) {
        const { ctx } = chart;
        const meta = chart.getDatasetMeta(0);
        ctx.save();
        ctx.font = `${v.fontSize}px ${FONT}`;
        ctx.fillStyle = '#1a1a1a';
        ctx.textAlign = 'center';
        ctx.textBaseline = 'middle';
        meta.data.forEach((el: any, i: number) => ctx.fillText(String(v.counts[i]), el.x, el.y));
        ctx.restore();
      },
    };
    const chart = new Chart(ref.current as HTMLCanvasElement, {
      type: 'scatter',
      data: { datasets: [{ data: v.counts.map((_, i) => ({ x: v.kx[i], y: v.ky[i] })), pointRadius: 0 }] },
      options: {
        responsive: false, animation: false, events: [],
        layout: { padding: 0, autoPadding: false },
        plugins: { legend: { display: false }, tooltip: { enabled: false } },
        scales: {
          x: { type: 'linear', display: false, min: v.xr[0], max: v.xr[1] },
          y: { type: 'linear', display: false, min: v.yr[0], max: v.yr[1] },
        },
      } as any,
      plugins: [vennPlugin],
    });
    return () => chart.destroy();
  }, []);
  return <canvas ref={ref} width={v.width} height={v.height} style={{ position: 'absolute', left: v.left, top: v.top, width: v.width, height: v.height }} />;
}

const vennJE: VennCfg = {
  left: 353, top: 210, width: 353, height: 270,
  xr: [-3.791, 3.719], yr: [-2.894, 2.851],
  sets: jeVennSets, cx: jeCircleX, cy: jeCircleY, counts: jeVennCounts, kx: jeCountX, ky: jeCountY, fontSize: 11,
};
const vennJELN: VennCfg = {
  left: 353, top: 730, width: 353, height: 262,
  xr: [-3.104, 2.731], yr: [-1.557, 2.774],
  sets: jelnVennSets, cx: jelnCircleX, cy: jelnCircleY, counts: jelnVennCounts, kx: jelnCountX, ky: jelnCountY, fontSize: 13.5,
};

function T({ x, y, size = 13, bold = false, color = '#000', rot = false, children }: any) {
  return (
    <div style={{
      position: 'absolute', left: x, top: y,
      transform: `translate(-50%,-50%)${rot ? ' rotate(-90deg)' : ''}`,
      fontSize: size, fontWeight: bold ? 700 : 400, color, fontFamily: FONT, lineHeight: 1, whiteSpace: 'nowrap',
    }}>{children}</div>
  );
}
const Sub = ({ children }: any) => <span style={{ fontSize: '0.72em', verticalAlign: '-0.3em', lineHeight: 0 }}>{children}</span>;
const XLab = ({ x, y }: any) => <T x={x} y={y} size={13}>Log<Sub>2</Sub>FC</T>;
const YLab = ({ x, y }: any) => <T x={x} y={y} size={13} rot>{'\u2212'}Log<Sub>10</Sub><i>p</i></T>;

export default function App() {
  return (
    <div style={{ position: 'absolute', left: 0, top: 0, width: 706, height: 992, background: '#fff', overflow: 'hidden' }}>
      <Volcano cfg={panelA} />
      <Volcano cfg={panelB} />
      <Volcano cfg={panelC} />
      <Volcano cfg={panelE} />
      <Volcano cfg={panelF} />
      <Volcano cfg={panelG} />
      <Venn v={vennJE} />
      <Venn v={vennJELN} />

      {/* panel letters */}
      <T x={6} y={7.5} size={14} bold>A</T>
      <T x={371} y={7} size={14} bold>B</T>
      <T x={6} y={250} size={14} bold>C</T>
      <T x={371} y={250} size={14} bold>D</T>
      <T x={6} y={500} size={14} bold>E</T>
      <T x={370} y={501} size={14} bold>F</T>
      <T x={7} y={752} size={14} bold>G</T>
      <T x={371} y={755} size={14} bold>H</T>

      {/* titles */}
      <T x={180.5} y={9} size={14} bold>JE MAPI vs HC</T>
      <T x={548} y={8} size={14} bold>JE MAPT vs HC</T>
      <T x={187.5} y={254} size={14} bold>JE MAPI vs MAPT</T>
      <T x={533.5} y={264.5} size={14} bold>JE</T>
      <T x={181} y={504} size={14} bold>JELN MAPI vs HC</T>
      <T x={555} y={505} size={14} bold>JELN MAPT vs HC</T>
      <T x={195} y={758.5} size={14} bold>JELN MAPI vs MAPT</T>
      <T x={539} y={796.5} size={14} bold>JELN</T>

      {/* axis titles */}
      <XLab x={179} y={231} />
      <XLab x={544} y={231} />
      <XLab x={175.5} y={478.5} />
      <XLab x={174} y={731} />
      <XLab x={540} y={731} />
      <XLab x={175.5} y={986} />
      <YLab x={33} y={111.5} />
      <YLab x={397} y={111.5} />
      <YLab x={33} y={360.5} />
      <YLab x={29} y={610} />
      <YLab x={397} y={610} />
      <YLab x={29} y={867} />

      {/* venn set labels */}
      <T x={464} y={284.5} size={13} bold color={SET_STYLE[jeVennSets[0]].stroke}>{jeVennSets[0]}</T>
      <T x={599.5} y={284.5} size={13} bold color={SET_STYLE[jeVennSets[1]].stroke}>{jeVennSets[1]}</T>
      <T x={536.5} y={471.5} size={13} bold color={SET_STYLE[jeVennSets[2]].stroke}>{jeVennSets[2]}</T>
      <T x={405} y={824} size={13} bold color={SET_STYLE[jelnVennSets[0]].stroke}>{jelnVennSets[0]}</T>
      <T x={541} y={824} size={13} bold color={SET_STYLE[jelnVennSets[1]].stroke}>{jelnVennSets[1]}</T>
      <T x={668} y={825.5} size={13} bold color={SET_STYLE[jelnVennSets[2]].stroke}>{jelnVennSets[2]}</T>
    </div>
  );
}
